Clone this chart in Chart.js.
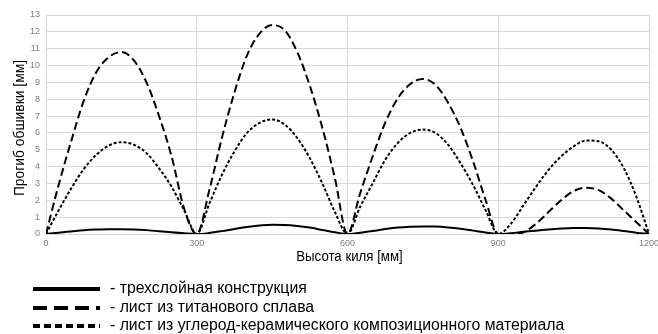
<!DOCTYPE html>
<html lang="ru">
<head>
    <meta charset="UTF-8">
    <title>Прогиб обшивки</title>
    <script src="https://cdn.jsdelivr.net/npm/chart.js"></script>
    <style>
        body { margin: 0; background: #fff; }
        #wrap { width: 658px; height: 334px; }
    </style>
</head>
<body>
    <div id="wrap"><canvas id="deflChart" width="658" height="334"></canvas></div>

    <script>
        // Высота киля, мм
        const heights = [
            0, 25, 50, 75, 100, 125, 150, 175, 200, 225, 250, 275, 300,
            325, 350, 375, 400, 425, 450, 475, 500, 525, 550, 575, 600,
            625, 650, 675, 700, 725, 750, 775, 800, 825, 850, 875, 900,
            925, 950, 975, 1000, 1025, 1050, 1075, 1100, 1125, 1150, 1175, 1200
        ];

        // трехслойная конструкция
        const sandwich = [
            0, 0.08, 0.15, 0.22, 0.26, 0.28, 0.28, 0.27, 0.23, 0.17, 0.1, 0.04, 0,
            0.06, 0.17, 0.3, 0.42, 0.5, 0.55, 0.54, 0.48, 0.38, 0.24, 0.1, 0,
            0.08, 0.18, 0.29, 0.38, 0.43, 0.45, 0.44, 0.39, 0.31, 0.2, 0.09, 0,
            0.05, 0.13, 0.2, 0.27, 0.32, 0.35, 0.35, 0.33, 0.27, 0.18, 0.08, 0
        ];

        // лист из титанового сплава
        const titanium = [
            0, 2.9, 5.5, 7.9, 9.6, 10.5, 10.8, 10.3, 9.0, 7.0, 4.6, 1.5, 0,
            2.6, 5.7, 8.4, 10.6, 11.9, 12.4, 12.1, 10.8, 8.8, 6.3, 3.3, 0,
            2.4, 4.6, 6.6, 8.05, 8.9, 9.2, 8.85, 7.8, 6.3, 4.3, 2.0, 0,
            0, 0.1, 0.6, 1.3, 2.0, 2.55, 2.75, 2.6, 2.1, 1.4, 0.7, 0
        ];

        // лист из углерод-керамического композиционного материала
        const carbon = [
            0, 1.4, 2.7, 3.85, 4.7, 5.25, 5.45, 5.3, 4.8, 3.9, 2.8, 1.4, 0,
            1.8, 3.5, 4.9, 6.0, 6.6, 6.8, 6.5, 5.7, 4.5, 3.0, 1.3, 0,
            1.6, 3.0, 4.4, 5.4, 6.0, 6.2, 6.0, 5.3, 4.2, 2.9, 1.4, 0,
            0.6, 1.7, 2.8, 3.8, 4.6, 5.2, 5.55, 5.5, 5.0, 3.9, 2.2, 0
        ];

        const seriesNames = [
            '- трехслойная конструкция',
            '- лист из титанового сплава',
            '- лист из углерод-керамического композиционного материала'
        ];
        const xTitle = 'Высота киля [мм]';
        const yTitle = 'Прогиб обшивки [мм]';

        const FONT = "'Liberation Sans', Arial, sans-serif";

        function toPoints(ys) {
            return heights.map((x, i) => ({ x: x, y: ys[i] }));
        }

        // axis titles (narrowed) and the legend under the chart, drawn by hand
        const extras = {
            id: 'extras',
            afterDraw(chart) {
                const ctx = chart.ctx;
                const area = chart.chartArea;
                ctx.save();
                ctx.fillStyle = '#000';
                ctx.textAlign = 'center';
                ctx.textBaseline = 'middle';
                ctx.font = '15.4px ' + FONT;

                // x title
                ctx.save();
                ctx.translate((area.left + area.right) / 2 + 2, 257);
                ctx.scale(0.86, 1);
                ctx.fillText(xTitle, 0, 0);
                ctx.restore();

                // y title
                ctx.save();
                ctx.translate(20, 128);
                ctx.rotate(-Math.PI / 2);
                ctx.scale(0.9, 1);
                ctx.fillText(yTitle, 0, 0);
                ctx.restore();

                // legend
                const rows = [289, 308, 326];
                const dashes = [[], [14, 7], [7, 4]];
                ctx.textAlign = 'left';
                ctx.font = '15.8px ' + FONT;
                rows.forEach((y, i) => {
                    ctx.beginPath();
                    ctx.setLineDash(dashes[i]);
                    ctx.lineWidth = 4;
                    ctx.strokeStyle = '#000';
                    ctx.moveTo(33, y);
                    ctx.lineTo(100, y);
                    ctx.stroke();
                    ctx.setLineDash([]);
                    ctx.fillText(seriesNames[i], 110, y);
                });
                ctx.restore();
            }
        };

        const common = {
            borderColor: '#000',
            borderWidth: 2,
            pointRadius: 0,
            fill: false,
            cubicInterpolationMode: 'monotone'
        };

        new Chart(document.getElementById('deflChart').getContext('2d'), {
            type: 'line',
            data: {
                datasets: [
                    Object.assign({ label: seriesNames[0], data: toPoints(sandwich) }, common),
                    Object.assign({ label: seriesNames[1], data: toPoints(titanium), borderDash: [8, 4] }, common),
                    Object.assign({ label: seriesNames[2], data: toPoints(carbon), borderDash: [3, 2] }, common)
                ]
            },
            options: {
                responsive: false,
                animation: false,
                layout: { padding: { left: 0, top: 15, right: 9, bottom: 68 } },
                plugins: {
                    legend: { display: false },
                    tooltip: { enabled: false }
                },
                scales: {
                    x: {
                        type: 'linear',
                        min: 0,
                        max: 1200,
                        ticks: {
                            stepSize: 300, color: '#7f7f7f', font: { family: FONT, size: 9 },
                            maxRotation: 0, padding: 4,
                            callback: v => String(v)
                        },
                        grid: { color: '#d9d9d9', drawTicks: false },
                        border: { display: false },
                        afterFit(s) {
                            s.height = 32;
                            s.paddingLeft = 0;
                            s.paddingRight = 0;
                        }
                    },
                    y: {
                        min: 0,
                        max: 13,
                        ticks: { stepSize: 1, color: '#7f7f7f', font: { family: FONT, size: 9 }, padding: 6 },
                        grid: { color: '#d9d9d9', drawTicks: false },
                        border: { display: false },
                        afterFit(s) { s.width = 46; }
                    }
                }
            },
            plugins: [extras]
        });
    </script>
</body>
</html>
